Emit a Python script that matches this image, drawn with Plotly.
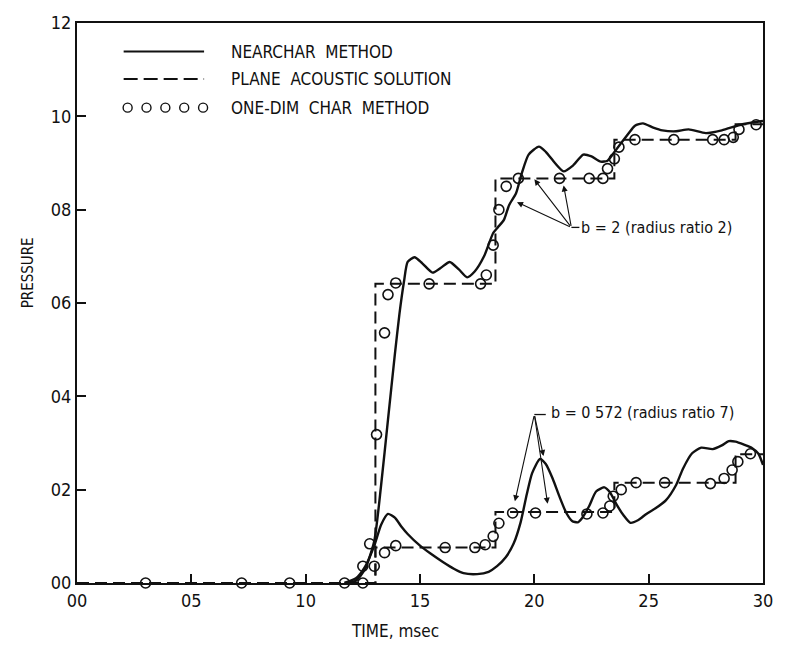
import plotly.graph_objects as go

# ---------------- data ----------------
x_ticks = [0.0, 0.5, 1.0, 1.5, 2.0, 2.5, 3.0]
x_tick_labels = ["00", "05", "10", "15", "20", "25", "30"]
y_ticks = [0.0, 0.2, 0.4, 0.6, 0.8, 1.0, 1.2]
y_tick_labels = ["00", "02", "04", "06", "08", "10", "12"]

# NEARCHAR method, b = 2
near_b2_t = [1.17, 1.22, 1.26, 1.30, 1.33, 1.36, 1.39, 1.41, 1.43, 1.446, 1.476, 1.51, 1.555, 1.59,
             1.63, 1.67, 1.706, 1.74, 1.78, 1.82, 1.84, 1.867, 1.89, 1.92, 1.945, 1.975, 2.02, 2.05,
             2.09, 2.128, 2.17, 2.214, 2.25, 2.29, 2.32, 2.36, 2.41, 2.44, 2.475, 2.52, 2.56, 2.62,
             2.675, 2.75, 2.82, 2.91, 3.0]
near_b2_p = [0.0, 0.005, 0.03, 0.09, 0.21, 0.35, 0.49, 0.576, 0.646, 0.688, 0.698, 0.685, 0.665, 0.675,
             0.688, 0.672, 0.655, 0.668, 0.70, 0.75, 0.762, 0.778, 0.81, 0.835, 0.878, 0.918, 0.935, 0.924,
             0.90, 0.882, 0.895, 0.918, 0.914, 0.903, 0.905, 0.93, 0.962, 0.98, 0.985, 0.976, 0.97, 0.968,
             0.972, 0.964, 0.97, 0.983, 0.99]

# NEARCHAR method, b = 0.572
near_b0572_t = [1.17, 1.22, 1.26, 1.30, 1.33, 1.36, 1.39, 1.42, 1.446, 1.50, 1.546, 1.60, 1.65, 1.69,
                1.75, 1.80, 1.837, 1.875, 1.91, 1.94, 1.967, 1.99, 2.025, 2.05, 2.08, 2.11, 2.14, 2.165,
                2.19, 2.21, 2.24, 2.27, 2.306, 2.33, 2.36, 2.39, 2.42, 2.455, 2.49, 2.53, 2.575, 2.62,
                2.65, 2.69, 2.73, 2.78, 2.82, 2.85, 2.88, 2.92, 2.95, 2.98, 3.0]
near_b0572_p = [0.0, 0.01, 0.035, 0.08, 0.125, 0.148, 0.14, 0.12, 0.105, 0.08, 0.063, 0.045, 0.03, 0.021,
                0.019, 0.024, 0.036, 0.055, 0.085, 0.13, 0.19, 0.235, 0.266, 0.255, 0.224, 0.185, 0.15, 0.133,
                0.13, 0.14, 0.165, 0.196, 0.205, 0.195, 0.168, 0.145, 0.129, 0.135, 0.148, 0.16, 0.177, 0.21,
                0.245, 0.278, 0.29, 0.287, 0.295, 0.304, 0.303, 0.296, 0.29, 0.277, 0.253]

# Plane acoustic solution (step changes)
plane_t = [0.0, 1.305, 1.83, 2.35, 2.88, 3.0]
plane_b2_p = [0.0, 0.641, 0.867, 0.95, 0.983, 0.983]
plane_b0572_p = [0.0, 0.076, 0.152, 0.215, 0.276, 0.276]

# One-dim char method
onedim_start_t = [0.3, 0.72, 0.93, 1.17, 1.25]
onedim_start_p = [0.0, 0.0, 0.0, 0.0, 0.0]
onedim_b2_t = [1.31, 1.345, 1.36, 1.394, 1.54, 1.765, 1.79, 1.82, 1.845, 1.877, 1.93, 2.11, 2.24, 2.30,
               2.32, 2.35, 2.37, 2.44, 2.61, 2.78, 2.83, 2.87, 2.895, 2.97]
onedim_b2_p = [0.318, 0.536, 0.618, 0.643, 0.641, 0.641, 0.66, 0.724, 0.80, 0.85, 0.867, 0.867, 0.867, 0.867,
               0.888, 0.909, 0.934, 0.95, 0.95, 0.95, 0.95, 0.955, 0.972, 0.982]
onedim_b0572_t = [1.25, 1.28, 1.30, 1.345, 1.394, 1.61, 1.74, 1.785, 1.82, 1.845, 1.905, 2.005, 2.23, 2.30,
                  2.33, 2.345, 2.38, 2.445, 2.57, 2.77, 2.83, 2.865, 2.89, 2.945]
onedim_b0572_p = [0.036, 0.084, 0.036, 0.065, 0.08, 0.076, 0.076, 0.082, 0.10, 0.128, 0.15, 0.15, 0.148, 0.15,
                  0.165, 0.186, 0.20, 0.215, 0.215, 0.213, 0.224, 0.242, 0.26, 0.277]

legend_labels = ["NEARCHAR  METHOD", "PLANE  ACOUSTIC SOLUTION", "ONE-DIM  CHAR  METHOD"]

FONT = "DejaVu Sans Condensed, DejaVu Sans, sans-serif"
INK = "#111111"

fig = go.Figure()

solid = dict(color=INK, width=2.4, shape="spline", smoothing=0.6)
dashed = dict(color=INK, width=2, dash="12px,6px", shape="hv")
circ = dict(symbol="circle-open", size=10, color=INK, line=dict(width=1.6, color=INK))

fig.add_trace(go.Scatter(x=plane_t, y=plane_b2_p, mode="lines", line=dashed, showlegend=False))
fig.add_trace(go.Scatter(x=plane_t, y=plane_b0572_p, mode="lines", line=dashed, showlegend=False))
fig.add_trace(go.Scatter(x=near_b2_t, y=near_b2_p, mode="lines", line=solid, showlegend=False))
fig.add_trace(go.Scatter(x=near_b0572_t, y=near_b0572_p, mode="lines", line=solid, showlegend=False))
fig.add_trace(go.Scatter(x=onedim_start_t, y=onedim_start_p, mode="markers", marker=circ, showlegend=False, cliponaxis=False))
fig.add_trace(go.Scatter(x=onedim_b2_t, y=onedim_b2_p, mode="markers", marker=circ, showlegend=False))
fig.add_trace(go.Scatter(x=onedim_b0572_t, y=onedim_b0572_p, mode="markers", marker=circ, showlegend=False))

# ---------------- legend (drawn manually) ----------------
L, W, T, H = 77, 691, 14, 569
def px(xp):
    return (xp - L) / W
def py(yp):
    return (T + H - yp) / H

shapes = []
rows = [43, 71, 100]
shapes.append(dict(type="line", xref="paper", yref="paper", x0=px(124), x1=px(205), y0=py(rows[0]), y1=py(rows[0]),
                   line=dict(color=INK, width=2)))
shapes.append(dict(type="line", xref="paper", yref="paper", x0=px(124), x1=px(205), y0=py(rows[1]), y1=py(rows[1]),
                   line=dict(color=INK, width=2, dash="14px,6px")))
for cx in [128, 147, 166, 185, 204]:
    shapes.append(dict(type="circle", xref="paper", yref="paper", xsizemode="pixel", ysizemode="pixel",
                       xanchor=px(cx), yanchor=py(rows[2]), x0=-4.5, x1=4.5, y0=-4.5, y1=4.5,
                       line=dict(color=INK, width=1.4)))

annotations = []
for r, lab in zip(rows, legend_labels):
    annotations.append(dict(xref="paper", yref="paper", x=px(230), y=py(r), text=lab, showarrow=False,
                            xanchor="left", yanchor="middle", font=dict(family=FONT, size=17, color=INK)))

# ---------------- callouts ----------------
b2_tail = (2.162, 0.762)
b2_heads = [(1.924, 0.816), (2.0, 0.865), (2.128, 0.852)]
b0_tail = (2.0, 0.361)
b0_heads = [(1.915, 0.175), (2.04, 0.272), (2.058, 0.17)]
for tail, heads in [(b2_tail, b2_heads), (b0_tail, b0_heads)]:
    for hx, hy in heads:
        annotations.append(dict(x=hx, y=hy, ax=tail[0], ay=tail[1], xref="x", yref="y", axref="x", ayref="y",
                                text="", showarrow=True, arrowhead=2, arrowsize=1.1, arrowwidth=1.1,
                                arrowcolor=INK, standoff=0, startstandoff=0))
shapes.append(dict(type="line", xref="x", yref="y", x0=b2_tail[0], x1=b2_tail[0] + 0.035, y0=b2_tail[1], y1=b2_tail[1],
                   line=dict(color=INK, width=1.3)))
shapes.append(dict(type="line", xref="x", yref="y", x0=b0_tail[0], x1=b0_tail[0] + 0.05, y0=b0_tail[1], y1=b0_tail[1],
                   line=dict(color=INK, width=1.3)))
annotations.append(dict(x=b2_tail[0] + 0.035, y=b2_tail[1], xref="x", yref="y", text="b = 2 (radius ratio 2)",
                        showarrow=False, xanchor="left", yanchor="middle", font=dict(family=FONT, size=16, color=INK)))
annotations.append(dict(x=b0_tail[0] + 0.062, y=b0_tail[1] + 0.004, xref="x", yref="y", text="b = 0 572 (radius ratio 7)",
                        showarrow=False, xanchor="left", yanchor="middle", font=dict(family=FONT, size=16, color=INK)))

# axis titles
annotations.append(dict(xref="paper", yref="paper", x=px(397), y=py(632), text="TIME, msec", showarrow=False,
                        xanchor="center", yanchor="middle", font=dict(family=FONT, size=17, color=INK)))
annotations.append(dict(xref="paper", yref="paper", x=px(28), y=py(268), text="PRESSURE", showarrow=False,
                        textangle=-90, xanchor="center", yanchor="middle", font=dict(family=FONT, size=15, color=INK)))

fig.update_layout(
    width=785, height=657,
    margin=dict(l=L, r=785 - L - W, t=T, b=657 - T - H),
    paper_bgcolor="white", plot_bgcolor="white",
    showlegend=False,
    shapes=shapes, annotations=annotations,
    font=dict(family=FONT, size=16, color=INK),
)
fig.update_xaxes(range=[0, 3.0], tickvals=x_ticks, ticktext=x_tick_labels, ticks="inside", ticklen=9,
                 tickwidth=1.6, tickcolor=INK, showline=True, linewidth=2.2, linecolor=INK, mirror=True,
                 showgrid=False, zeroline=False, tickfont=dict(family=FONT, size=18, color=INK))
fig.update_yaxes(range=[0, 1.2], tickvals=y_ticks, ticktext=y_tick_labels, ticks="inside", ticklen=9,
                 tickwidth=1.6, tickcolor=INK, showline=True, linewidth=2.2, linecolor=INK, mirror=True,
                 showgrid=False, zeroline=False, tickfont=dict(family=FONT, size=18, color=INK))

fig.write_html("out.html")
